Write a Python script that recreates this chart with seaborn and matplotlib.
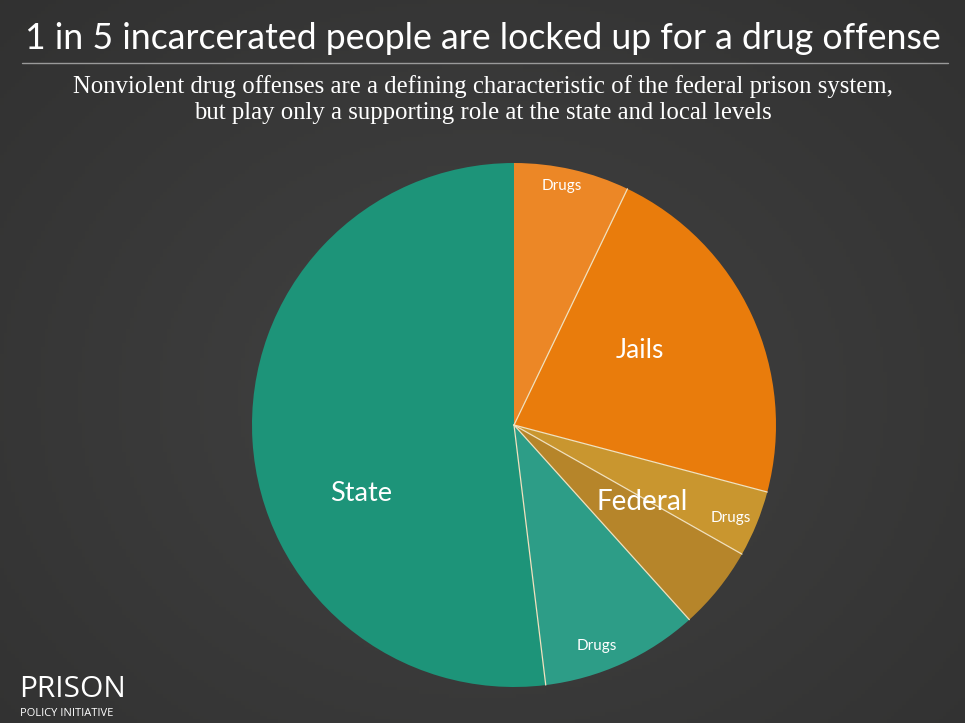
import numpy as np
import matplotlib.pyplot as plt
import seaborn as sns

# thousands of people
groups = ["Jails", "Jails", "Federal", "Federal", "State", "State"]
parts = ["Drugs", "Other", "Drugs", "Other", "Drugs", "Other"]
counts = [164, 506, 94, 118, 224, 1195]
colors = ["#ec8726", "#e97c0c", "#c9962f", "#b6852a", "#2d9d87", "#1d9479"]

sns.set_theme(style="dark")
bg = "#373737"
plt.rcParams["font.family"] = ["Lato", "DejaVu Sans"]

fig = plt.figure(figsize=(9.65, 7.23), dpi=100, facecolor=bg)

# soft vignette background
bgax = fig.add_axes([0, 0, 1, 1])
yy, xx = np.mgrid[0:1:200j, 0:1:260j]
shade = np.hypot((xx - 0.5) * 1.1, (yy - 0.55))
bgax.imshow(shade, cmap=sns.dark_palette("#424242", reverse=True, as_cmap=True),
            vmin=0, vmax=1.3, aspect="auto", extent=[0, 1, 0, 1])
bgax.set_xlim(0, 1)
bgax.set_ylim(0, 1)
bgax.set_axis_off()

# title
fig.text(0.5, 0.947, "1 in 5 incarcerated people are locked up for a drug offense",
         ha="center", va="center", color="white", fontsize=25.7)
bgax.plot([0.023, 0.982], [0.913, 0.913], color="#9a9a9a", lw=1.0)
fig.text(0.5, 0.862,
         "Nonviolent drug offenses are a defining characteristic of the federal prison system,\n"
         "but play only a supporting role at the state and local levels",
         ha="center", va="center", color="white", fontsize=17.8, linespacing=1.22,
         family=["Liberation Serif", "DejaVu Serif"])

# pie
cx, cy, r = 514, 425, 262
ax = fig.add_axes([(cx - r) / 965, (723 - cy - r) / 723, 2 * r / 965, 2 * r / 723])
wedges, _ = ax.pie(counts, colors=colors, startangle=90, counterclock=False,
                   wedgeprops=dict(linewidth=0))
ax.set_xlim(-1, 1)
ax.set_ylim(-1, 1)
ax.set_aspect("equal")
ax.set_axis_off()

# thin separators between slices (none at 12 o'clock)
for w in wedges[1:]:
    t = np.deg2rad(w.theta2)
    ax.plot([0, np.cos(t)], [0, np.sin(t)], color="#f2e2bf", lw=0.9)


def mid(ws):
    lo = min(w.theta1 for w in ws)
    hi = max(w.theta2 for w in ws)
    return (lo + hi) / 2


# small "Drugs" labels near the rim
drug_nudge = [1.6, -1.0, -3.8]
drug_rad = [0.93, 0.90, 0.90]
drug_wedges = [w for w, p in zip(wedges, parts) if p == "Drugs"]
for w, dn, rr in zip(drug_wedges, drug_nudge, drug_rad):
    a = np.deg2rad(mid([w]) + dn)
    ax.text(rr * np.cos(a), rr * np.sin(a), "Drugs", ha="center", va="center",
            color="white", fontsize=11)

# group labels
for g, rad, shift, fs in [("Jails", 0.56, -7, 19), ("Federal", 0.57, 0.5, 20), ("State", 0.64, 3, 19.5)]:
    ws = [w for w, gg in zip(wedges, groups) if gg == g]
    a = np.deg2rad(mid(ws) + shift)
    ax.text(rad * np.cos(a), rad * np.sin(a), g, ha="center", va="center",
            color="white", fontsize=fs)

# logo
fig.text(0.020, 0.036, "PRISON", color="white", fontsize=21.5, ha="left", va="baseline",
         family=["Open Sans", "DejaVu Sans"])
fig.text(0.021, 0.009, "POLICY INITIATIVE", color="white", fontsize=8.0, ha="left", va="baseline",
         family=["Open Sans", "DejaVu Sans"])

fig.savefig("out.png", dpi=100, facecolor=bg)
